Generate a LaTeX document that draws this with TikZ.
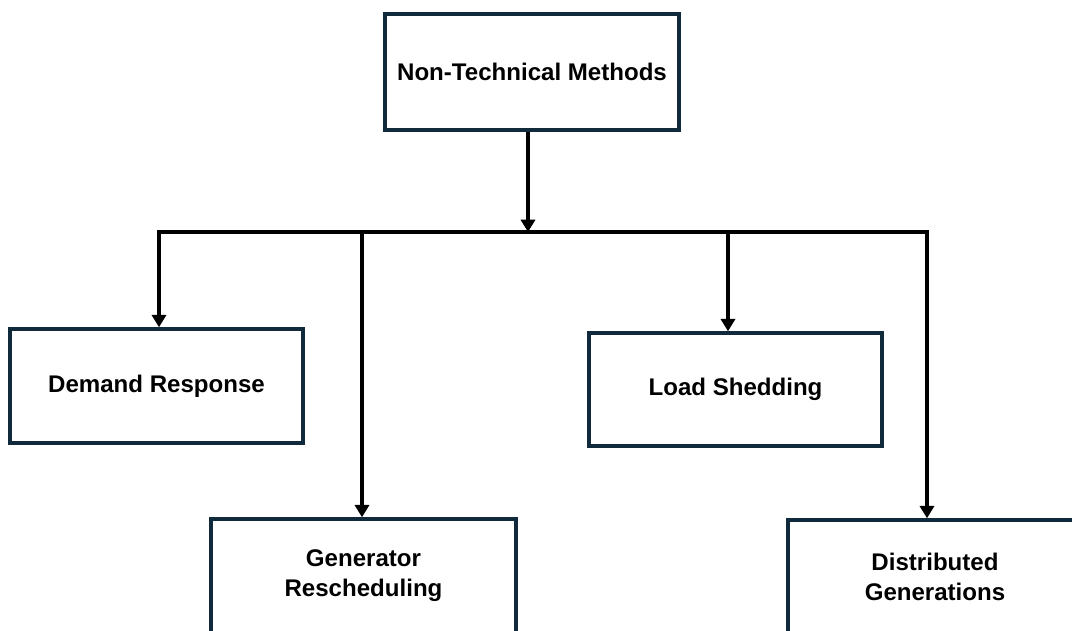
\documentclass[tikz,border=0pt]{standalone}
\usepackage{fontspec}
\setmainfont{Liberation Sans}
\usetikzlibrary{arrows.meta}
\definecolor{boxline}{HTML}{10293B}
\tikzset{
  box/.style={draw=boxline, line width=2pt, fill=white, align=center,
    inner sep=0pt, font=\fontsize{13.7}{17}\selectfont\bfseries},
  link/.style={draw=black, line width=1.9pt},
  arr/.style={link, -{Triangle[width=8pt,length=7pt]}}
}
\begin{document}
\begin{tikzpicture}[x=0.02cm, y=-0.02cm]
  \useasboundingbox (0,0) rectangle (1072,630);
  \clip (0,0) rectangle (1072,630);

  % boxes
  \node[box, minimum width=5.88cm, minimum height=2.32cm] (top) at (532,72) {Non-Technical Methods};
  \node[box, minimum width=5.86cm, minimum height=2.28cm] (dr) at (156.5,386) {Demand Response};
  \node[box, minimum width=5.86cm, minimum height=2.26cm] (ls) at (735.5,389.5) {Load Shedding};
  \node[box, minimum width=6.10cm, minimum height=2.28cm] (gr) at (363.5,576) {Generator\\Rescheduling};
  \node[box, minimum width=5.88cm, minimum height=2.28cm] (dg) at (935,577) {Distributed\\Generations};

  % distribution bus
  \coordinate (busL) at (159,232);
  \coordinate (busR) at (927,232);
  \coordinate (busT) at (528,232);
  \coordinate (busG) at (362,232);
  \coordinate (busS) at (728,232);

  \draw[arr] (top.south -| busT) -- (busT);
  \draw[link, line cap=rect] (busL) -- (busR);
  \draw[arr] (busL) -- (busL |- dr.north);
  \draw[arr] (busG) -- (busG |- gr.north);
  \draw[arr] (busS) -- (busS |- ls.north);
  \draw[arr] (busR) -- (busR |- dg.north);
\end{tikzpicture}
\end{document}
